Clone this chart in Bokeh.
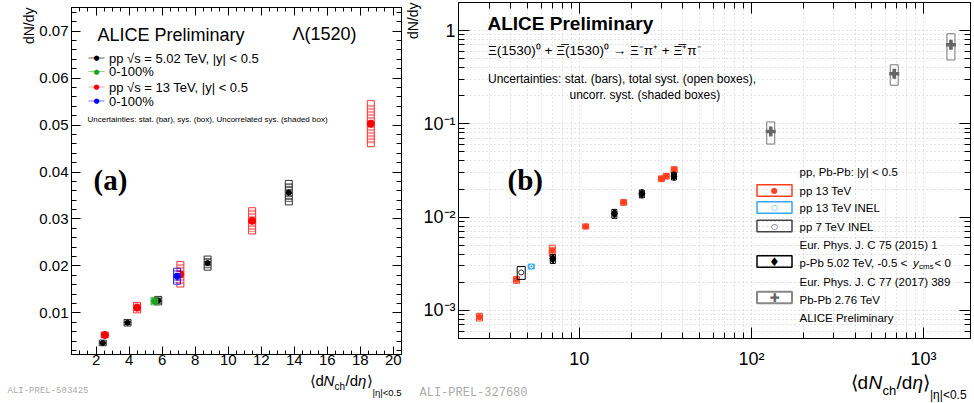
from math import pi
import numpy as np
from bokeh.plotting import figure
from bokeh.layouts import row, column
from bokeh.models import (FixedTicker, LinearAxis, LogAxis, Range1d, Label, BoxAnnotation,
                          CustomJSTickFormatter, ColumnDataSource, Title)
from bokeh.embed import file_html
from bokeh.resources import INLINE

SANS = "Liberation Sans"
SERIF = "Liberation Serif"
MONO = "Liberation Mono"

# ======================= panel (a): Lambda(1520) =======================
a_xticks = [2, 4, 6, 8, 10, 12, 14, 16, 18, 20]
a_xlabels = ["2", "4", "6", "8", "10", "12", "14", "16", "18", "20"]
a_yticks = [0.01, 0.02, 0.03, 0.04, 0.05, 0.06, 0.07]
a_ylabels = ["0.01", "0.02", "0.03", "0.04", "0.05", "0.06", "0.07"]

# pp sqrt(s)=5.02 TeV, multiplicity classes (black)
a_pp502_x = [2.4, 3.9, 5.76, 8.75, 13.67]
a_pp502_y = [0.0036, 0.0079, 0.0126, 0.0206, 0.0356]
a_pp502_sys = [0.0006, 0.0007, 0.0009, 0.0015, 0.0026]
a_pp502_unc = [0.0004, 0.0005, 0.0007, 0.0011, 0.0020]
a_pp502_stat = [0.0002, 0.0002, 0.0003, 0.0004, 0.0007]
# pp 5.02 TeV, 0-100% (green)
a_pp502mb_x = [5.53]
a_pp502mb_y = [0.0125]
a_pp502mb_sys = [0.0008]
a_pp502mb_unc = [0.0006]
a_pp502mb_stat = [0.0002]
# pp sqrt(s)=13 TeV, multiplicity classes (red)
a_pp13_x = [2.52, 4.48, 7.1, 11.45, 18.64]
a_pp13_y = [0.0053, 0.0111, 0.0182, 0.0296, 0.0503]
a_pp13_sys = [0.0006, 0.0011, 0.0027, 0.0028, 0.0049]
a_pp13_unc = [0.0005, 0.0009, 0.0022, 0.0024, 0.0042]
a_pp13_stat = [0.0002, 0.0003, 0.0004, 0.0005, 0.0008]
# pp 13 TeV, 0-100% (blue)
a_pp13mb_x = [6.9]
a_pp13mb_y = [0.0178]
a_pp13mb_sys = [0.0017]
a_pp13mb_unc = [0.0014]
a_pp13mb_stat = [0.0003]

# ======================= panel (b): Xi(1530) =======================
b_xticks = [10, 100, 1000]
b_xlabels = ["10", "10²", "10³"]
b_yticks = [0.001, 0.01, 0.1, 1]
b_ylabels = ["10⁻³", "10⁻²", "10⁻¹", "1"]

b_pp13_x = [2.63, 4.32, 6.97, 10.9, 18.1, 30.0, 32.0, 35.6]
b_pp13_y = [0.00085, 0.00213, 0.0044, 0.00795, 0.0144, 0.0258, 0.0275, 0.0322]
b_pp13_sys = [0.00008, 0.00018, 0.0006, 0.0005, 0.0010, 0.0018, 0.0019, 0.0025]
b_pp13_unc = [0.00006, 0.00014, 0.0004, 0.0004, 0.0008, 0.0014, 0.0015, 0.0020]

b_pp13inel_x = [5.26]
b_pp13inel_y = [0.00296]
b_pp13inel_sys = [0.00018]

b_pp7inel_x = [4.6]
b_pp7inel_y = [0.00255]
b_pp7inel_sys = [0.0004]

b_ppb_x = [7.02, 16.0, 23.1, 35.5]
b_ppb_y = [0.00358, 0.0109, 0.0178, 0.0275]
b_ppb_sys = [0.0004, 0.0012, 0.0017, 0.0025]
b_ppb_unc = [0.0003, 0.0009, 0.0013, 0.0019]
b_ppb_stat = [0.0002, 0.0006, 0.0009, 0.0012]

b_pbpb_x = [129.5, 676.0, 1443.0]
b_pbpb_y = [0.0827, 0.344, 0.703]
b_pbpb_sys = [0.022, 0.085, 0.22]
b_pbpb_stat = [0.008, 0.03, 0.06]

RED_B = "#ff3d1f"
BLUE_B = "#35a6f5"
GRAY_B = "#666666"


def lin_fmt(tv, tl):
    return CustomJSTickFormatter(args=dict(tv=tv, tl=tl), code="""
        const i = tv.findIndex(t => Math.abs(t - tick) < 1e-9);
        return i >= 0 ? tl[i] : '';""")


def log_fmt(tv, tl):
    return CustomJSTickFormatter(args=dict(tv=tv, tl=tl), code="""
        const i = tv.findIndex(t => Math.abs(Math.log10(t) - Math.log10(tick)) < 1e-6);
        return i >= 0 ? tl[i] : '';""")


def style_axis(ax, ticker, major_in, minor_in, fmt=None, size="15px", standoff=3):
    ax.ticker = ticker
    ax.major_tick_in = major_in
    ax.major_tick_out = 0
    ax.minor_tick_in = minor_in
    ax.minor_tick_out = 0
    ax.axis_line_color = "black"
    ax.major_tick_line_color = "black"
    ax.minor_tick_line_color = "black"
    if fmt is None:
        ax.formatter = CustomJSTickFormatter(code="return '';")
        ax.major_label_text_font_size = "0px"
        ax.major_label_standoff = 0
    else:
        ax.formatter = fmt
        ax.major_label_text_font = SANS
        ax.major_label_text_font_size = size
        ax.major_label_text_color = "black"
        ax.major_label_standoff = standoff


def make_label(p, fl, fb, px, py, text, size, color="black", font=SANS, style="normal",
               align="left", baseline="middle", angle=0.0):
    p.add_layout(Label(x=px - fl, y=fb - py, x_units="screen", y_units="screen", text=text,
                       text_font=font, text_font_size=f"{size}px", text_font_style=style,
                       text_color=color, text_align=align, text_baseline=baseline, angle=angle))


def make_box(p, fl, fb, x0, x1, y0, y1, fill=None, line=None, lw=1.0):
    p.add_layout(BoxAnnotation(left=x0 - fl, right=x1 - fl, top=fb - y0, bottom=fb - y1,
                               left_units="screen", right_units="screen",
                               top_units="screen", bottom_units="screen",
                               fill_color=fill if fill else "white",
                               fill_alpha=1.0 if fill else 0.0,
                               line_color=line if line else "white",
                               line_alpha=1.0 if line else 0.0,
                               line_width=lw, line_dash="solid"))


def y_title(p, text, size):
    p.add_layout(Title(text=text, align="right", text_font=SANS, text_font_size=f"{size}px",
                       text_font_style="normal", text_color="black", standoff=0), "left")


def footer(width, height):
    f = figure(width=width, height=height, x_range=Range1d(0, width), y_range=Range1d(0, height),
               min_border_left=0, min_border_right=0, min_border_top=0, min_border_bottom=0,
               x_axis_location=None, y_axis_location=None, output_backend="svg",
               toolbar_location=None, background_fill_color="white", border_fill_color="white")
    f.outline_line_color = None
    f.grid.visible = False
    f.frame_align = False
    return f


# ---------------------------------------------------------------- panel (a)
A_FL, A_FB = 71, 354   # frame left / bottom in page pixels
pa = figure(frame_width=330, frame_height=347, min_border_left=71, min_border_right=1,
            min_border_top=7, min_border_bottom=17,
            x_range=Range1d(0.503, 20.5), y_range=Range1d(0.00113, 0.07505),
            output_backend="svg", toolbar_location=None, background_fill_color="white",
            border_fill_color="white")
pa.frame_align = False
pa.grid.visible = False
pa.outline_line_color = "black"

a_xminor = [float(v) for v in np.arange(0.5, 20.6, 0.5)]
a_yminor = [float(v) for v in np.arange(0.002, 0.075, 0.002)]
style_axis(pa.xaxis[0], FixedTicker(ticks=a_xticks, minor_ticks=a_xminor), 8, 4,
           lin_fmt(a_xticks, a_xlabels), "15px", 0)
style_axis(pa.yaxis[0], FixedTicker(ticks=a_yticks, minor_ticks=a_yminor), 9, 5,
           lin_fmt(a_yticks, a_ylabels), "15px", 3)
ax_top = LinearAxis()
style_axis(ax_top, FixedTicker(ticks=a_xticks, minor_ticks=a_xminor), 8, 4)
pa.add_layout(ax_top, "above")
ax_right = LinearAxis()
style_axis(ax_right, FixedTicker(ticks=a_yticks, minor_ticks=a_yminor), 9, 5)
pa.add_layout(ax_right, "right")
y_title(pa, "dN/dy", 14)


def series_a(xs, ys, sys, unc, stat, color, shade_alpha, size):
    src = ColumnDataSource(dict(
        x=xs, y=ys,
        hs=[2 * s for s in sys], hu=[2 * u for u in unc],
        lo=[y - s for y, s in zip(ys, stat)], hi=[y + s for y, s in zip(ys, stat)]))
    pa.rect("x", "y", width=7, width_units="screen", height="hu", source=src,
            fill_color=color, fill_alpha=shade_alpha, line_color=None,
            hatch_pattern="horizontal_line", hatch_color="white", hatch_alpha=0.8,
            hatch_scale=3, hatch_weight=1)
    pa.rect("x", "y", width=7, width_units="screen", height="hs", source=src,
            fill_color=None, line_color=color, line_alpha=0.8, line_width=1)
    pa.segment("x", "lo", "x", "hi", source=src, line_color=color, line_width=1)
    pa.scatter("x", "y", source=src, marker="circle", size=size, fill_color=color,
               line_color=color)


series_a(a_pp502_x, a_pp502_y, a_pp502_sys, a_pp502_unc, a_pp502_stat, "black", 0.55, 5)
series_a(a_pp502mb_x, a_pp502mb_y, a_pp502mb_sys, a_pp502mb_unc, a_pp502mb_stat, "#1fa31f", 0.5, 6)
series_a(a_pp13_x, a_pp13_y, a_pp13_sys, a_pp13_unc, a_pp13_stat, "#ff0000", 0.4, 7)
series_a(a_pp13mb_x, a_pp13mb_y, a_pp13mb_sys, a_pp13mb_unc, a_pp13mb_stat, "#0000ff", 0.4, 6)

# texts panel (a)
make_label(pa, A_FL, A_FB, 97, 34, "ALICE Preliminary", 18)
make_label(pa, A_FL, A_FB, 292, 33, "Λ(1520)", 18)
leg_rows = [(57.5, "black", "#666666", "pp √s = 5.02 TeV, |y| < 0.5"),
            (71.0, "#1fa31f", "#88d888", "0-100%"),
            (86.5, "#ff0000", "#ffaaaa", "pp √s = 13 TeV, |y| < 0.5"),
            (100.5, "#0000ff", "#7777ff", "0-100%")]
for yy, mc, lc, txt in leg_rows:
    make_box(pa, A_FL, A_FB, 88, 104, yy - 0.5, yy + 0.5, fill=lc)
    make_label(pa, A_FL, A_FB, 96, yy, "●", 7, color=mc, font="DejaVu Sans", align="center")
    make_label(pa, A_FL, A_FB, 108.5, yy, txt, 13)
make_label(pa, A_FL, A_FB, 87, 119,
           "Uncertainties: stat. (bar), sys. (box), Uncorrelated sys. (shaded box)", 8)
make_label(pa, A_FL, A_FB, 93, 179, "(a)", 29, font=SERIF, style="bold")

# footer (a): x-axis title and watermark
FA_TOP = 371
FA_H = 31
fa = footer(402, FA_H)
FA_B = FA_TOP + FA_H       # page y of footer bottom
MA = FA_TOP + 0.5          # top of the main title line
make_label(fa, 0, FA_B, 309, MA, "⟨d", 15, baseline="top")
make_label(fa, 0, FA_B, 323, MA, "N", 15, style="italic", baseline="top")
make_label(fa, 0, FA_B, 334, 385.5, "ch", 10)
make_label(fa, 0, FA_B, 345, MA, "/d", 15, baseline="top")
make_label(fa, 0, FA_B, 357.5, MA, "η", 15, style="italic", baseline="top")
make_label(fa, 0, FA_B, 366, MA, "⟩", 15, baseline="top")
make_label(fa, 0, FA_B, 372, 392, "|η|<0.5", 9.5)
make_label(fa, 0, FA_B, 7, 390, "ALI-PREL-503425", 9, color="#aaaaaa", font=MONO)

# ---------------------------------------------------------------- panel (b)
B_X0 = 402
B_FL, B_FB = 456, 338
pb = figure(frame_width=512, frame_height=336, min_border_left=B_FL - B_X0, min_border_right=6,
            min_border_top=2, min_border_bottom=31,
            x_axis_type="log", y_axis_type="log",
            x_range=Range1d(1.988, 1875), y_range=Range1d(5.0e-4, 1.996),
            output_backend="svg", toolbar_location=None, background_fill_color="white",
            border_fill_color="white")
pb.frame_align = False
pb.outline_line_color = "black"

b_xminor = [m * d for d in (1, 10, 100, 1000) for m in range(2, 10) if m * d < 1900]
b_yminor = [m * d for d in (1e-4, 1e-3, 1e-2, 1e-1, 1) for m in range(2, 10)
            if 5e-4 <= m * d < 2.0]
style_axis(pb.xaxis[0], FixedTicker(ticks=b_xticks, minor_ticks=b_xminor), 11, 6,
           log_fmt(b_xticks, b_xlabels), "18px", 10)
style_axis(pb.yaxis[0], FixedTicker(ticks=b_yticks, minor_ticks=b_yminor), 11, 6,
           log_fmt(b_yticks, b_ylabels), "18px", 3)
bx_top = LogAxis()
style_axis(bx_top, FixedTicker(ticks=b_xticks, minor_ticks=b_xminor), 11, 6)
pb.add_layout(bx_top, "above")
by_right = LogAxis()
style_axis(by_right, FixedTicker(ticks=b_yticks, minor_ticks=b_yminor), 11, 6)
pb.add_layout(by_right, "right")
y_title(pb, "dN/dy", 14)
for g in (pb.xgrid[0], pb.ygrid[0]):
    g.grid_line_color = "#c8c8c8"
    g.grid_line_dash = "1 3"
    g.minor_grid_line_color = "#c8c8c8"
    g.minor_grid_line_dash = "1 3"

# pp 13 TeV
s = ColumnDataSource(dict(x=b_pp13_x, y=b_pp13_y,
                          hs=[2 * v for v in b_pp13_sys], hu=[2 * v for v in b_pp13_unc]))
pb.rect("x", "y", width=6, width_units="screen", height="hu", source=s,
        fill_color=RED_B, fill_alpha=0.6, line_color=None)
pb.rect("x", "y", width=6, width_units="screen", height="hs", source=s,
        fill_color=None, line_color=RED_B, line_width=1)
pb.scatter("x", "y", source=s, marker="circle", size=5, color=RED_B)
# pp 13 TeV INEL
s = ColumnDataSource(dict(x=b_pp13inel_x, y=b_pp13inel_y, hs=[2 * v for v in b_pp13inel_sys]))
pb.rect("x", "y", width=6, width_units="screen", height="hs", source=s,
        fill_color=BLUE_B, fill_alpha=0.9, line_color=BLUE_B, line_width=1)
pb.scatter("x", "y", source=s, marker="circle", size=3, fill_color=None, line_color="white")
# pp 7 TeV INEL
s = ColumnDataSource(dict(x=b_pp7inel_x, y=b_pp7inel_y, hs=[2 * v for v in b_pp7inel_sys]))
pb.rect("x", "y", width=8, width_units="screen", height="hs", source=s,
        fill_color=None, line_color="black", line_width=1)
pb.scatter("x", "y", source=s, marker="circle", size=5, fill_color=None, line_color="#333333")
# p-Pb 5.02 TeV
s = ColumnDataSource(dict(x=b_ppb_x, y=b_ppb_y,
                          hs=[2 * v for v in b_ppb_sys], hu=[2 * v for v in b_ppb_unc],
                          lo=[y - e for y, e in zip(b_ppb_y, b_ppb_stat)],
                          hi=[y + e for y, e in zip(b_ppb_y, b_ppb_stat)]))
pb.rect("x", "y", width=5, width_units="screen", height="hu", source=s,
        fill_color="#999999", fill_alpha=0.6, line_color=None)
pb.rect("x", "y", width=5, width_units="screen", height="hs", source=s,
        fill_color=None, line_color="black", line_width=1)
pb.segment("x", "lo", "x", "hi", source=s, line_color="black", line_width=1.5)
pb.scatter("x", "y", source=s, marker="diamond", size=9, color="black")
# Pb-Pb 2.76 TeV
s = ColumnDataSource(dict(x=b_pbpb_x, y=b_pbpb_y, hs=[2 * v for v in b_pbpb_sys],
                          lo=[y - e for y, e in zip(b_pbpb_y, b_pbpb_stat)],
                          hi=[y + e for y, e in zip(b_pbpb_y, b_pbpb_stat)]))
pb.rect("x", "y", width=8, width_units="screen", height="hs", source=s,
        fill_color=None, line_color="#777777", line_width=1)
pb.segment("x", "lo", "x", "hi", source=s, line_color=GRAY_B, line_width=3)
pb.scatter("x", "y", source=s, marker="cross", size=10, line_color=GRAY_B, line_width=3.5)

# texts panel (b)
make_label(pb, B_FL, B_FB, 485, 23, "ALICE Preliminary", 19, style="bold")
make_label(pb, B_FL, B_FB, 485.5, 50, "Ξ(1530)⁰ + Ξ̅(1530)⁰ → Ξ⁻π⁺ + Ξ̅⁺π⁻", 13.5)
make_label(pb, B_FL, B_FB, 485.5, 78, "Uncertainties: stat. (bars), total syst. (open boxes),", 12)
make_label(pb, B_FL, B_FB, 567, 94, "uncorr. syst. (shaded boxes)", 12)
make_label(pb, B_FL, B_FB, 505, 179, "(b)", 29, font=SERIF, style="bold")

# legend (b)
LX = 797
for yy, txt in [(171, "pp, Pb-Pb: |y| < 0.5"), (190, "pp 13 TeV"), (207.5, "pp 13 TeV INEL"),
                (226, "pp 7 TeV INEL"), (244.5, "Eur. Phys. J. C 75 (2015) 1"),
                (281, "Eur. Phys. J. C 77 (2017) 389"), (299, "Pb-Pb 2.76 TeV"),
                (317, "ALICE Preliminary")]:
    make_label(pb, B_FL, B_FB, LX, yy, txt, 11.5)
make_label(pb, B_FL, B_FB, LX, 262.5, "p-Pb 5.02 TeV, -0.5 < ", 11.5)
make_label(pb, B_FL, B_FB, LX + 113.5, 262.5, "y", 11.5, style="italic")
make_label(pb, B_FL, B_FB, LX + 119.5, 266, "cms", 8)
make_label(pb, B_FL, B_FB, LX + 135, 262.5, " < 0", 11.5)
for yy, lc, lw, glyph, gc, gs in [(190, RED_B, 1.5, "●", RED_B, 8),
                                  (207, BLUE_B, 1.5, "○", BLUE_B, 8),
                                  (225.5, "#444444", 1.5, "○", "#222222", 8),
                                  (261, "black", 1.5, "♦", "black", 12),
                                  (297, "#888888", 2, "✚", GRAY_B, 12)]:
    make_box(pb, B_FL, B_FB, 754.5, 789.5, yy - 5.8, yy + 5.8, line=lc, lw=lw)
    make_label(pb, B_FL, B_FB, 772, yy, glyph, gs, color=gc, font="DejaVu Sans", align="center")

# footer (b): x-axis title and watermark
FB_TOP = 369
FB_H = 33
fb = footer(974 - B_X0, FB_H)
FB_B = FB_TOP + FB_H
MB = FB_TOP + 0.5
make_label(fb, B_X0, FB_B, 850, MB, "⟨d", 19, baseline="top")
make_label(fb, B_X0, FB_B, 868, MB, "N", 19, style="italic", baseline="top")
make_label(fb, B_X0, FB_B, 882, 388, "ch", 13)
make_label(fb, B_X0, FB_B, 896, MB, "/d", 19, baseline="top")
make_label(fb, B_X0, FB_B, 912, MB, "η", 19, style="italic", baseline="top")
make_label(fb, B_X0, FB_B, 922.5, MB, "⟩", 19, baseline="top")
make_label(fb, B_X0, FB_B, 929.5, 392.5, "|η|<0.5", 12)
make_label(fb, B_X0, FB_B, 419, 390, "ALI-PREL-327680", 12, color="#aaaaaa", font=MONO)

layout = row(column(pa, fa, spacing=0), column(pb, fb, spacing=0), spacing=0)
open("out.html", "w").write(file_html(layout, INLINE))
